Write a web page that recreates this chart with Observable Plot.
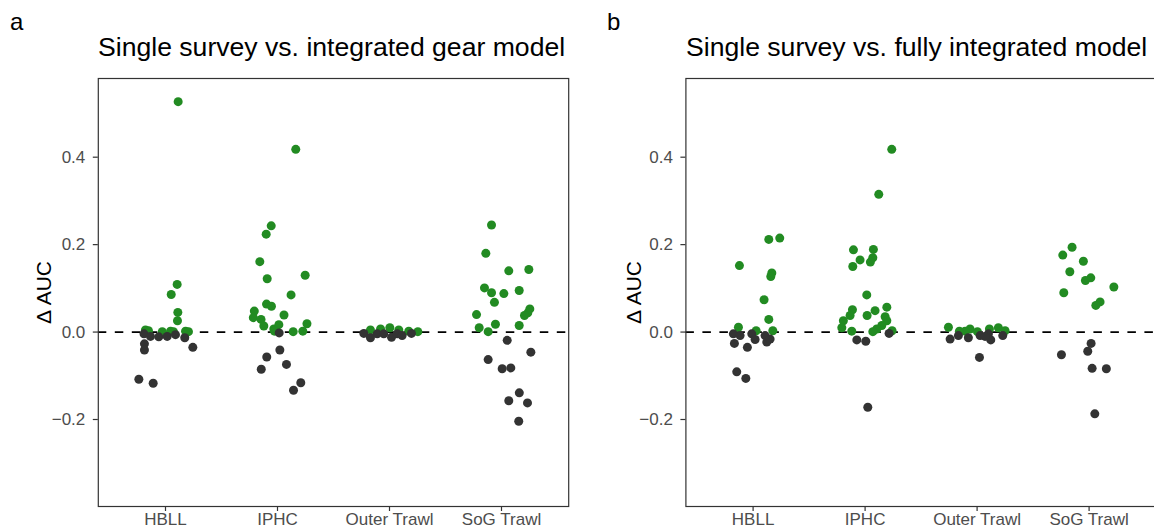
<!DOCTYPE html>
<html>
<head>
<meta charset="utf-8">
<script src="https://cdn.jsdelivr.net/npm/d3@7"></script>
<script src="https://cdn.jsdelivr.net/npm/@observablehq/plot@0.6"></script>
<style>
  html, body { margin: 0; padding: 0; background: #fff; overflow: hidden; }
  #page { position: relative; width: 1154px; height: 529px; overflow: hidden;
          font-family: "Liberation Sans", Arial, Helvetica, sans-serif; color: #000; }
  .panel { position: absolute; top: 0; }
  .tag { position: absolute; font-size: 24px; line-height: 1; }
  .title { position: absolute; font-size: 26.6px; line-height: 1; white-space: nowrap; }
  .ylab { position: absolute; font-size: 21px; line-height: 1; width: 200px; text-align: center;
          transform: rotate(-90deg); white-space: nowrap; }
</style>
</head>
<body>
<div id="page"></div>
<script>
// Survey categories along the x axis
const surveys = ["HBLL", "IPHC", "Outer Trawl", "SoG Trawl"];

// Δ AUC per species: [delta, horizontal jitter in category widths]
// (a) single survey vs. integrated gear model
const gearHBLL = [
  [0.527, 0.113], [0.109, 0.104], [0.086, 0.051], [0.045, 0.110], [0.026, 0.107],
  [0.005, -0.179], [0.003, -0.152], [0.001, -0.029], [0.002, 0.045], [0.001, 0.071],
  [0.002, 0.179], [0.001, 0.205],
  [-0.004, -0.192], [-0.027, -0.188], [-0.041, -0.188], [-0.010, -0.134], [-0.011, -0.060],
  [-0.010, 0.015], [-0.006, 0.089], [-0.013, 0.172], [-0.035, 0.244], [-0.108, -0.238],
  [-0.117, -0.110]
];
const gearIPHC = [
  [0.418, 0.163], [0.243, -0.056], [0.224, -0.101], [0.161, -0.158], [0.122, -0.092],
  [0.130, 0.247], [0.085, 0.121], [0.064, -0.098], [0.059, -0.054], [0.039, 0.058],
  [0.048, -0.207], [0.033, -0.216], [0.029, -0.147], [0.014, -0.122], [0.007, -0.033],
  [0.017, 0.012], [0.002, -0.027], [0.001, 0.140], [0.002, 0.226], [0.019, 0.263],
  [-0.002, 0.015], [-0.041, 0.021], [-0.057, -0.096], [-0.085, -0.145], [-0.074, 0.080],
  [-0.116, 0.208], [-0.133, 0.143]
];
const gearOuter = [
  [-0.003, -0.229], [-0.013, -0.170], [-0.004, -0.110], [-0.004, -0.051], [-0.012, 0.018],
  [-0.004, 0.069], [-0.008, 0.113], [-0.003, 0.196],
  [0.005, -0.170], [0.007, -0.080], [0.010, 0.003], [0.005, 0.083], [0.002, 0.172],
  [0.001, 0.253]
];
const gearSoG = [
  [0.245, -0.089], [0.180, -0.140], [0.140, 0.065], [0.143, 0.244], [0.101, -0.152],
  [0.090, -0.089], [0.088, 0.021], [0.095, 0.158], [0.068, -0.063], [0.040, -0.223],
  [0.053, 0.253], [0.044, 0.235], [0.038, 0.205], [0.010, -0.199], [0.001, -0.119],
  [0.018, -0.054], [0.015, 0.158],
  [-0.019, 0.051], [-0.046, 0.262], [-0.063, -0.119], [-0.084, 0.006], [-0.082, 0.083],
  [-0.139, 0.159], [-0.157, 0.065], [-0.162, 0.232], [-0.204, 0.154]
];

// (b) single survey vs. fully integrated model
const fullHBLL = [
  [0.152, -0.122], [0.212, 0.140], [0.215, 0.238], [0.135, 0.167], [0.127, 0.158],
  [0.074, 0.098], [0.029, 0.140], [0.011, -0.131], [0.003, 0.027], [0.003, 0.176],
  [-0.091, -0.146], [-0.106, -0.065], [-0.004, -0.176], [-0.026, -0.167], [-0.008, -0.116],
  [-0.035, -0.051], [-0.004, -0.012], [-0.017, 0.018], [-0.008, 0.107], [-0.023, 0.122],
  [-0.016, 0.152]
];
const fullIPHC = [
  [0.418, 0.238], [0.315, 0.122], [0.188, -0.104], [0.189, 0.074], [0.165, -0.045],
  [0.150, -0.110], [0.170, 0.069], [0.160, 0.047], [0.085, 0.015], [0.057, 0.194],
  [0.049, 0.089], [0.038, 0.018], [0.051, -0.113], [0.038, -0.134], [0.026, -0.194],
  [0.010, -0.208], [0.002, -0.119], [0.035, 0.179], [0.026, 0.194], [0.015, 0.149],
  [0.007, 0.104], [0.001, 0.069], [0.003, 0.241],
  [-0.018, -0.074], [-0.021, 0.006], [-0.003, 0.214], [-0.172, 0.024]
];
const fullOuter = [
  [0.011, -0.256], [0.002, -0.158], [0.007, -0.063], [0.001, 0.003], [0.007, 0.110],
  [0.010, 0.190], [0.003, 0.250], [0.002, -0.107],
  [-0.016, -0.241], [-0.008, -0.167], [-0.013, -0.078], [-0.008, 0.027], [-0.004, 0.101],
  [-0.018, 0.122], [-0.008, 0.229], [-0.058, 0.021], [-0.010, 0.071]
];
const fullSoG = [
  [0.194, -0.152], [0.176, -0.235], [0.162, -0.051], [0.138, -0.172], [0.124, 0.015],
  [0.118, -0.033], [0.103, 0.221], [0.090, -0.226], [0.069, 0.098], [0.061, 0.060],
  [-0.026, 0.018], [-0.044, -0.012], [-0.052, -0.247], [-0.083, 0.027], [-0.084, 0.154],
  [-0.187, 0.051]
];

const GREEN = "#228B22";
const DARK = "#333333";
const FONT = "'Liberation Sans', Arial, Helvetica, sans-serif";

function rows(groups) {
  const out = [];
  groups.forEach((g, i) => g.forEach(([delta, jit]) => out.push({survey: surveys[i], pos: i + jit, delta})));
  return out;
}

function panel(data, {width, marginLeft, marginRight}) {
  const better = data.filter(d => d.delta > 0);
  const worse = data.filter(d => d.delta <= 0);
  return Plot.plot({
    width, height: 529,
    marginLeft, marginRight, marginTop: 78, marginBottom: 23,
    style: {fontFamily: FONT, background: "transparent", overflow: "visible"},
    x: {type: "linear", domain: [-0.6, 3.6]},
    y: {domain: [-0.399, 0.58]},
    marks: [
      Plot.ruleY([0], {stroke: "#000", strokeWidth: 1.7, strokeDasharray: "8.5,8.5"}),
      Plot.dot(better, {x: "pos", y: "delta", r: 4.5, fill: GREEN, stroke: null}),
      Plot.dot(worse, {x: "pos", y: "delta", r: 4.5, fill: DARK, stroke: null}),
      Plot.frame({stroke: "#333", strokeWidth: 1.2}),
      Plot.axisX({ticks: [0, 1, 2, 3], tickFormat: i => surveys[i], label: null,
        tickSize: 5, tickPadding: 1.5, fontSize: 17, fill: "#4D4D4D", stroke: "#333", strokeWidth: 1.2}),
      Plot.axisY({ticks: [-0.2, 0, 0.2, 0.4], tickFormat: d3.format(".1f"), label: null,
        tickSize: 5, tickPadding: 8, fontSize: 17, fill: "#4D4D4D", stroke: "#333", strokeWidth: 1.2})
    ]
  });
}

const page = document.getElementById("page");

function place(el, left) {
  el.classList.add("panel");
  el.style.left = left + "px";
  page.appendChild(el);
}

place(panel(rows([gearHBLL, gearIPHC, gearOuter, gearSoG]), {width: 580, marginLeft: 97.8, marginRight: 11.8}), 0);
place(panel(rows([fullHBLL, fullIPHC, fullOuter, fullSoG]), {width: 570, marginLeft: 95.4, marginRight: 4.2}), 590);

function addText(cls, text, left, top) {
  const d = document.createElement("div");
  d.className = cls;
  d.textContent = text;
  d.style.left = left + "px";
  d.style.top = top + "px";
  page.appendChild(d);
  return d;
}

addText("tag", "a", 10, 10);
addText("tag", "b", 607, 10);
addText("title", "Single survey vs. integrated gear model", 98, 34);
addText("title", "Single survey vs. fully integrated model", 686, 34);
addText("ylab", "Δ AUC", 42.7 - 100, 292 - 10.5);
addText("ylab", "Δ AUC", 590 + 42.7 - 100, 292 - 10.5);
</script>
</body>
</html>
